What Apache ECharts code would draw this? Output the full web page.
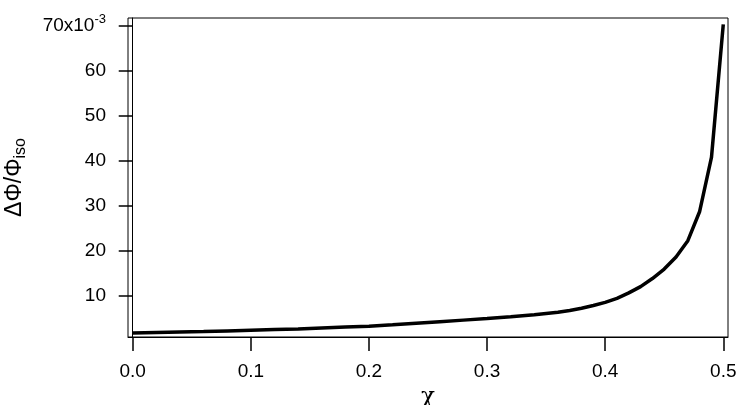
<!DOCTYPE html>
<html>
<head>
<meta charset="utf-8">
<script src="https://cdn.jsdelivr.net/npm/echarts@6/dist/echarts.min.js"></script>
<style>
  html, body { margin: 0; padding: 0; background: #fff; }
  #chart { width: 738px; height: 405px; }
</style>
</head>
<body>
<div id="chart"></div>
<script>
// chi values and relative change dPhi/Phi_iso (in units of 1e-3)
var chi = [0.00, 0.02, 0.04, 0.06, 0.08, 0.10, 0.12, 0.14, 0.16, 0.18,
  0.20, 0.22, 0.24, 0.26, 0.28, 0.30, 0.32, 0.34, 0.36, 0.37,
  0.38, 0.39, 0.40, 0.41, 0.42, 0.43, 0.44, 0.45, 0.46, 0.47,
  0.48, 0.49, 0.50]
var dPhi = [1.8, 1.9, 2.0, 2.1, 2.25, 2.4, 2.55, 2.7, 2.9, 3.1,
  3.3, 3.6, 3.95, 4.3, 4.65, 5.0, 5.4, 5.85, 6.4, 6.8,
  7.3, 7.9, 8.6, 9.5, 10.7, 12.1, 13.9, 16.0, 18.7, 22.3,
  28.8, 40.8, 70.4]
var xTicks = [0, 0.1, 0.2, 0.3, 0.4, 0.5]
var yTicks = [10, 20, 30, 40, 50, 60, 70]

var font = 'Liberation Sans, Arial, sans-serif'
var chart = echarts.init(document.getElementById('chart'))

chart.setOption({
  backgroundColor: '#fff',
  animation: false,
  grid: {
    left: 128,
    top: 18,
    right: 10,
    bottom: 68,
    containLabel: false,
    outerBoundsMode: 'none',
    show: true,
    borderColor: '#000',
    borderWidth: 1
  },
  xAxis: {
    type: 'value',
    min: -0.004,
    max: 0.504,
    name: 'χ',
    nameLocation: 'middle',
    nameGap: 48,
    nameTextStyle: { color: '#000', fontSize: 23, fontFamily: 'DejaVu Serif, serif' },
    axisLine: { lineStyle: { color: '#000', width: 1 } },
    axisTick: { customValues: xTicks, length: 14, lineStyle: { color: '#000', width: 1.5 } },
    axisLabel: {
      customValues: xTicks,
      margin: 25,
      color: '#000',
      fontSize: 19,
      fontFamily: font,
      formatter: function (v) { return v.toFixed(1) }
    },
    splitLine: { show: false }
  },
  yAxis: {
    type: 'value',
    min: 0.9,
    max: 71.8,
    name: '{m|ΔΦ/Φ}{s|iso}',
    nameLocation: 'middle',
    nameGap: 99,
    nameTextStyle: {
      rich: {
        m: { color: '#000', fontSize: 23, fontFamily: font },
        s: { color: '#000', fontSize: 16, fontFamily: font, padding: [12, 0, 0, 0], verticalAlign: 'bottom' }
      }
    },
    axisLine: { lineStyle: { color: '#000', width: 1 } },
    axisTick: { customValues: yTicks, length: 14, lineStyle: { color: '#000', width: 1.5 } },
    axisLabel: {
      customValues: yTicks,
      margin: 22,
      color: '#000',
      fontSize: 19,
      fontFamily: font,
      formatter: function (v) {
        return v === 70 ? '{a|70x10}{s|-3}' : String(v)
      },
      rich: {
        a: { color: '#000', fontSize: 19, fontFamily: font },
        s: { color: '#000', fontSize: 13, fontFamily: font, padding: [0, 0, 14, 0] }
      }
    },
    splitLine: { show: false }
  },
  series: [
    {
      type: 'line',
      data: chi.map(function (x, i) { return [x, dPhi[i]] }),
      symbol: 'none',
      smooth: false,
      lineStyle: { color: '#000', width: 3.5 }
    }
  ]
})
</script>
</body>
</html>
